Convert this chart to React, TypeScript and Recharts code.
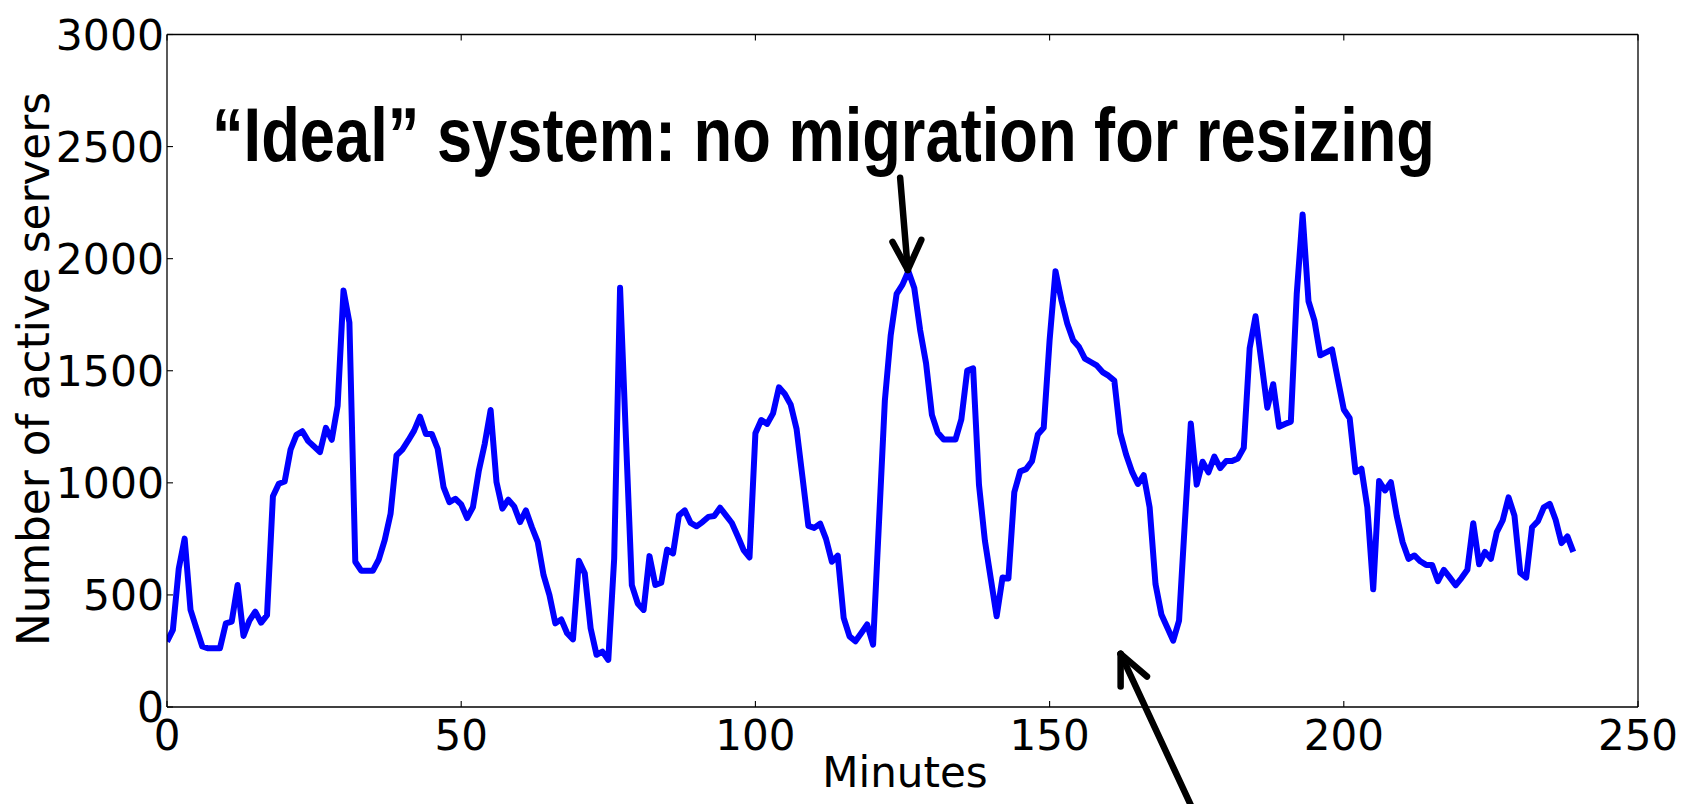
import React from 'react';
import { LineChart, Line, XAxis, YAxis, ReferenceLine } from 'recharts';

// Number of active servers, one value per minute (minute 0 .. 239)
const servers: number[] = [
  292, 344, 618, 751, 433, 351, 270, 262, 262, 262,
  373, 381, 544, 317, 385, 425, 376, 410, 940, 996,
  1006, 1148, 1214, 1230, 1186, 1162, 1137, 1245, 1192, 1344,
  1858, 1715, 648, 608, 608, 608, 658, 744, 863, 1122,
  1148, 1189, 1233, 1295, 1218, 1218, 1152, 981, 914, 929,
  904, 843, 892, 1055, 1174, 1325, 1003, 885, 925, 895,
  825, 877, 803, 737, 588, 499, 373, 391, 329, 302,
  652, 596, 351, 233, 247, 210, 662, 1870, 1200, 544,
  462, 433, 673, 544, 554, 702, 685, 855, 877, 821,
  806, 825, 848, 852, 889, 855, 821, 762, 700, 667,
  1221, 1280, 1263, 1310, 1426, 1396, 1349, 1240, 1026, 808,
  799, 818, 750, 648, 675, 398, 315, 293, 330, 368,
  278, 822, 1366, 1659, 1843, 1884, 1944, 1869, 1681, 1534,
  1303, 1223, 1193, 1193, 1193, 1283, 1501, 1511, 991, 743,
  573, 405, 578, 573, 958, 1051, 1061, 1096, 1216, 1246,
  1636, 1944, 1816, 1711, 1636, 1606, 1554, 1539, 1524, 1494,
  1478, 1456, 1223, 1126, 1050, 995, 1034, 891, 548, 413,
  355, 296, 385, 829, 1265, 992, 1094, 1047, 1117, 1066,
  1097, 1097, 1109, 1156, 1600, 1743, 1540, 1335, 1440, 1250,
  1262, 1273, 1842, 2197, 1810, 1725, 1569, 1582, 1595, 1460,
  1327, 1288, 1047, 1063, 891, 525, 1008, 966, 1003, 852,
  735, 661, 676, 650, 634, 634, 561, 612, 578, 543,
  575, 612, 820, 637, 692, 661, 780, 832, 935, 854,
  598, 577, 802, 829, 891, 906, 835, 731, 761, 692,
];

const xTicks: number[] = [0, 50, 100, 150, 200, 250];
const yTicks: number[] = [0, 500, 1000, 1500, 2000, 2500, 3000];

const titleText = '\u201CIdeal\u201D system: no migration for resizing';
const xLabel = 'Minutes';
const yLabel = 'Number of active servers';

// Annotation arrows in data coordinates [minute, servers]
const arrow1Tail: [number, number] = [124.6, 2361];
const arrow1Head: [number, number] = [125.9, 1950];
const arrow1WingL: [number, number] = [123.3, 2075];
const arrow1WingR: [number, number] = [128.2, 2084];

const arrow2Tail: [number, number] = [175.1, -500];
const arrow2Head: [number, number] = [162.07, 237];
const arrow2WingL: [number, number] = [162.07, 91];
const arrow2WingR: [number, number] = [166.55, 136];

const data = servers.map((v, i) => ({ minute: i, servers: v }));

const FONT = 'DejaVu Sans';
const TICK_LEN = 6;

const XTickBottom = (props: any) => {
  const { x, y, payload } = props;
  return (
    <g>
      <line x1={x} x2={x} y1={y} y2={y - TICK_LEN} stroke="#000" strokeWidth={1.1} />
      <text x={x} y={y + 43} textAnchor="middle" fontFamily={FONT} fontSize={42} fill="#000">
        {payload.value}
      </text>
    </g>
  );
};

const XTickTop = (props: any) => {
  const { x, y } = props;
  return <line x1={x} x2={x} y1={y} y2={y + TICK_LEN} stroke="#000" strokeWidth={1.1} />;
};

const YTickLeft = (props: any) => {
  const { x, y, payload } = props;
  return (
    <g>
      <line x1={x} x2={x + TICK_LEN} y1={y} y2={y} stroke="#000" strokeWidth={1.1} />
      <text x={x - 3} y={y} dy="0.36em" textAnchor="end" fontFamily={FONT} fontSize={42.5} fill="#000">
        {payload.value}
      </text>
    </g>
  );
};

const YTickRight = (props: any) => {
  const { x, y } = props;
  return <line x1={x} x2={x - TICK_LEN} y1={y} y2={y} stroke="#000" strokeWidth={1.1} />;
};

const arrowStyle = {
  stroke: '#000',
  strokeWidth: 6.5,
  strokeLinecap: 'round' as const,
  ifOverflow: 'visible' as const,
};

export default function App() {
  return (
    <div style={{ position: 'absolute', left: 0, top: 0, width: 1688, height: 804, background: '#fff' }}>
      <LineChart
        width={1688}
        height={804}
        data={data}
        margin={{ top: 0, right: 0, bottom: 0, left: 0 }}
      >
        <XAxis
          dataKey="minute"
          type="number"
          domain={[0, 250]}
          ticks={xTicks}
          interval={0}
          height={97}
          tickSize={0}
          tickMargin={0}
          tickLine={false}
          axisLine={{ stroke: '#000', strokeWidth: 1.3 }}
          tick={<XTickBottom />}
          allowDataOverflow
        />
        <XAxis
          xAxisId="top"
          orientation="top"
          dataKey="minute"
          type="number"
          domain={[0, 250]}
          ticks={xTicks}
          interval={0}
          height={34.5}
          tickSize={0}
          tickMargin={0}
          tickLine={false}
          axisLine={{ stroke: '#000', strokeWidth: 1.3 }}
          tick={<XTickTop />}
        />
        <YAxis
          type="number"
          domain={[0, 3000]}
          ticks={yTicks}
          interval={0}
          width={167}
          tickSize={0}
          tickMargin={0}
          tickLine={false}
          axisLine={{ stroke: '#000', strokeWidth: 1.3 }}
          tick={<YTickLeft />}
          allowDataOverflow
        />
        <YAxis
          yAxisId="right"
          orientation="right"
          type="number"
          domain={[0, 3000]}
          ticks={yTicks}
          interval={0}
          width={50}
          tickSize={0}
          tickMargin={0}
          tickLine={false}
          axisLine={{ stroke: '#000', strokeWidth: 1.3 }}
          tick={<YTickRight />}
        />
        <Line
          dataKey="servers"
          stroke="#0000ff"
          strokeWidth={6}
          strokeLinejoin="round"
          dot={false}
          activeDot={false}
          isAnimationActive={false}
        />
        <ReferenceLine segment={[{ x: arrow1Tail[0], y: arrow1Tail[1] }, { x: arrow1Head[0], y: arrow1Head[1] }]} {...arrowStyle} />
        <ReferenceLine segment={[{ x: arrow1WingL[0], y: arrow1WingL[1] }, { x: arrow1Head[0], y: arrow1Head[1] }]} {...arrowStyle} />
        <ReferenceLine segment={[{ x: arrow1WingR[0], y: arrow1WingR[1] }, { x: arrow1Head[0], y: arrow1Head[1] }]} {...arrowStyle} />
        <ReferenceLine segment={[{ x: arrow2Tail[0], y: arrow2Tail[1] }, { x: arrow2Head[0], y: arrow2Head[1] }]} {...arrowStyle} />
        <ReferenceLine segment={[{ x: arrow2WingL[0], y: arrow2WingL[1] }, { x: arrow2Head[0], y: arrow2Head[1] }]} {...arrowStyle} />
        <ReferenceLine segment={[{ x: arrow2WingR[0], y: arrow2WingR[1] }, { x: arrow2Head[0], y: arrow2Head[1] }]} {...arrowStyle} />
      </LineChart>
      <svg
        width={1688}
        height={804}
        style={{ position: 'absolute', left: 0, top: 0, pointerEvents: 'none' }}
      >
        <text
          x={212}
          y={161}
          fontFamily="Liberation Sans"
          fontWeight="bold"
          fontSize={76}
          fill="#000"
          textLength={1223}
          lengthAdjust="spacingAndGlyphs"
        >
          {titleText}
        </text>
        <text
          x={905}
          y={787}
          textAnchor="middle"
          fontFamily={FONT}
          fontSize={42}
          fill="#000"
        >
          {xLabel}
        </text>
        <text
          x={0}
          y={0}
          transform="translate(48.5 369) rotate(-90)"
          textAnchor="middle"
          fontFamily={FONT}
          fontSize={44}
          fill="#000"
          textLength={554}
          lengthAdjust="spacingAndGlyphs"
        >
          {yLabel}
        </text>
      </svg>
    </div>
  );
}
